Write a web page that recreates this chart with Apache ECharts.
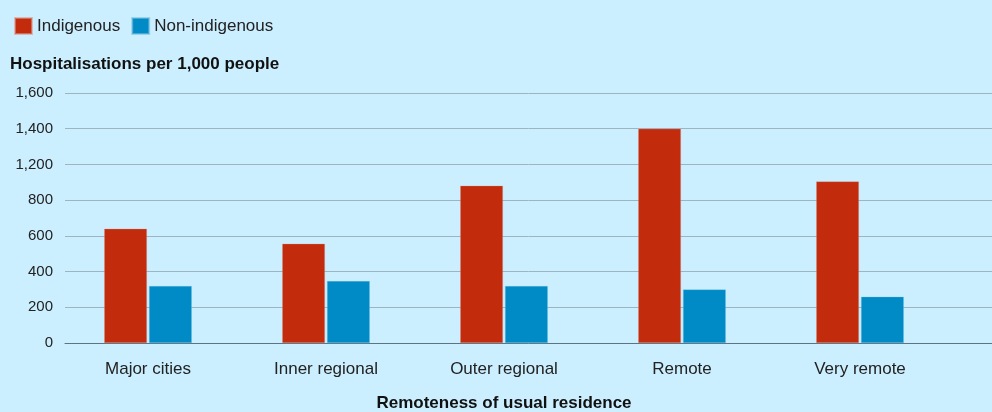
<!DOCTYPE html>
<html>
<head>
<meta charset="utf-8">
<script src="https://cdn.jsdelivr.net/npm/echarts@6/dist/echarts.min.js"></script>
<style>
  html, body { margin: 0; padding: 0; background: #ccefff; }
  #chart { width: 992px; height: 412px; }
</style>
</head>
<body>
<div id="chart"></div>
<script>
const categories = ['Major cities', 'Inner regional', 'Outer regional', 'Remote', 'Very remote'];
const indigenous = [640, 556, 881, 1200, 905];
const nonIndigenous = [319, 347, 319, 300, 259];
// the printed axis skips 1,000
const tickLabels = ['0', '200', '400', '600', '800', '1,200', '1,400', '1,600'];

const font = '"Liberation Sans", Arial, sans-serif';

const chart = echarts.init(document.getElementById('chart'));

const option = {
  backgroundColor: '#ccefff',
  animation: false,
  textStyle: { fontFamily: font, color: '#222' },
  title: {
    text: 'Hospitalisations per 1,000 people',
    left: 5,
    top: 51,
    textStyle: { fontFamily: font, fontSize: 17, fontWeight: 'bold', color: '#111' }
  },
  legend: {
    left: 9,
    top: 12,
    itemWidth: 17,
    itemHeight: 16,
    itemGap: 11,
    icon: 'rect',
    textStyle: { fontFamily: font, fontSize: 17, color: '#222' },
    data: ['Indigenous', 'Non-indigenous']
  },
  grid: [
    { left: 65, right: 0, top: 93, bottom: 69, outerBoundsMode: 'none', containLabel: false },
    { left: 59, right: 43, top: 93, bottom: 69, outerBoundsMode: 'none', containLabel: false }
  ],
  xAxis: [
    {
      gridIndex: 0, type: 'value', min: 0, max: 1,
      axisLine: { show: true, onZero: false, lineStyle: { color: '#5d7482', width: 1 } },
      axisTick: { show: false }, axisLabel: { show: false }, splitLine: { show: false }
    },
    {
      gridIndex: 1, type: 'category', data: categories,
      axisLine: { show: false }, axisTick: { show: false },
      axisLabel: { margin: 18, fontSize: 17, color: '#222', fontFamily: font },
      name: 'Remoteness of usual residence',
      nameLocation: 'middle',
      nameGap: 52,
      nameTextStyle: { fontFamily: font, fontSize: 17, fontWeight: 'bold', color: '#111' }
    }
  ],
  yAxis: [
    {
      gridIndex: 0, type: 'value', min: 0, max: 1400, interval: 200,
      axisLine: { show: false }, axisTick: { show: false },
      axisLabel: {
        margin: 12, fontSize: 15, color: '#222', fontFamily: font,
        formatter: v => tickLabels[Math.round(v / 200)]
      },
      splitLine: { show: true, lineStyle: { color: '#9db4c1', width: 1 } }
    },
    {
      gridIndex: 1, type: 'value', min: 0, max: 1400, interval: 200,
      show: false, splitLine: { show: false }
    }
  ],
  series: [
    {
      name: 'Indigenous', type: 'bar', xAxisIndex: 1, yAxisIndex: 1,
      data: indigenous, barWidth: '24%', barGap: '5%',
      itemStyle: { color: '#c22b0b', borderColor: 'rgba(220,150,140,0.6)', borderWidth: 0.5 }
    },
    {
      name: 'Non-indigenous', type: 'bar', xAxisIndex: 1, yAxisIndex: 1,
      data: nonIndigenous, barWidth: '24%', barGap: '5%',
      itemStyle: { color: '#008bc7', borderColor: 'rgba(120,190,220,0.6)', borderWidth: 0.5 }
    }
  ]
};

chart.setOption(option);
</script>
</body>
</html>
